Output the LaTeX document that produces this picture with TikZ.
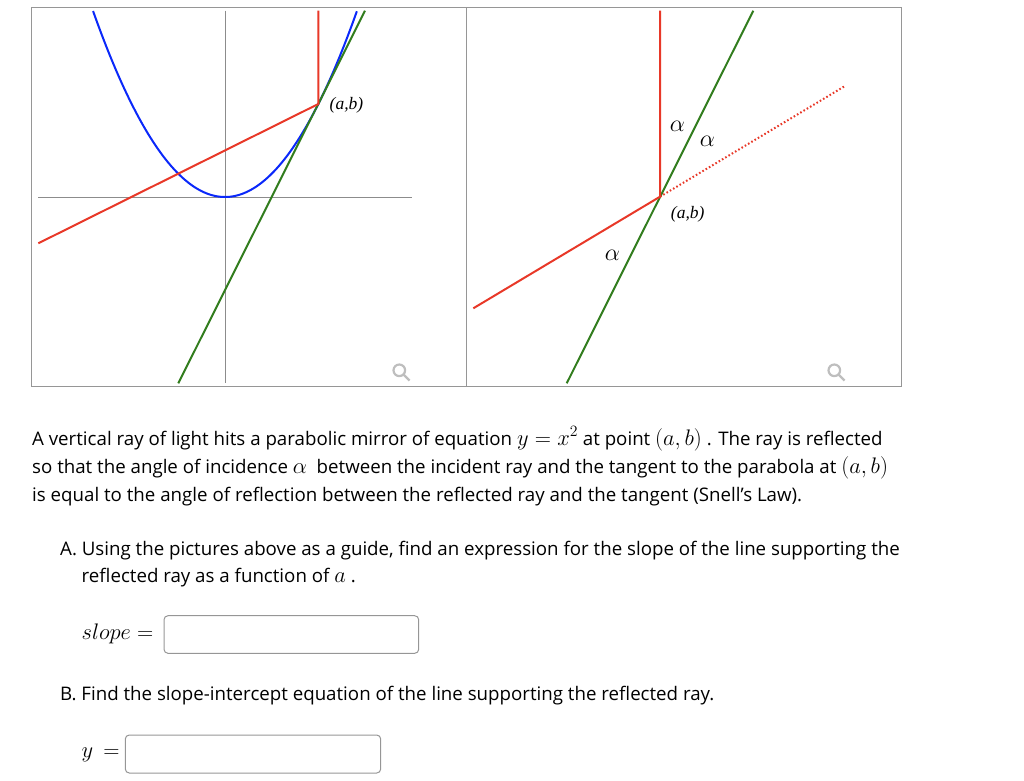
\documentclass[tikz,border=0pt]{standalone}
\usepackage{fix-cm}
\usepackage{fontspec}
\setmainfont{Open Sans}
\newfontfamily\lblfont{Liberation Serif}
\definecolor{rayred}{RGB}{232,56,40}
\definecolor{parblue}{RGB}{10,40,250}
\definecolor{tangreen}{RGB}{50,125,30}
\definecolor{axgray}{RGB}{140,140,140}
\definecolor{boxgray}{RGB}{150,150,150}
\definecolor{icongray}{RGB}{190,190,190}
\newcommand{\sq}{{\char"0027}}
\newcommand{\mth}[1]{{\fontsize{22.5}{22}\selectfont$#1$}}
\begin{document}
\begin{tikzpicture}[x=1pt,y=-1pt,
  panel/.style={draw=boxgray,line width=1pt},
  axis/.style={draw=axgray,line width=1pt},
  ray/.style={draw=rayred,line width=2pt},
  tang/.style={draw=tangreen,line width=2pt},
  parab/.style={draw=parblue,line width=2pt},
  lbl/.style={font=\fontsize{17.5}{17.5}\selectfont\lblfont\itshape,inner sep=0pt},
  alab/.style={font=\fontsize{24}{24}\selectfont,inner sep=0pt},
  txt/.style={font=\fontsize{18.7}{22}\selectfont,inner sep=0pt,anchor=base west},
  ansbox/.style={draw=boxgray,line width=1pt,rounded corners=4pt},
  mag/.style={draw=icongray,line width=2.2pt}]
\useasboundingbox (0,0) rectangle (1024,780);
% panels
\draw[panel] (31,7) rectangle (901,386);
\draw[panel] (466,7) -- (466,386);
% ---- left panel
\draw[axis] (38,197) -- (412,197);
\draw[axis] (225,10.7) -- (225,383.3);
\draw[parab] plot[domain=-1.414:1.414,samples=120] ({225+93.3*\x},{197-93*\x*\x});
\coordinate (P1) at (318.3,104);
\coordinate (P1top) at (318.3,10.7);
\coordinate (P1ref) at (38.3,243.3);
\coordinate (T1a) at (365,10.7);
\coordinate (T1b) at (178.3,383.3);
\draw[tang] (T1a) -- (T1b);
\draw[ray] (P1top) -- (P1) -- (P1ref);
\node[lbl] (L1) at (346.5,105) {(a,b)};
% magnifier left
\draw[mag] (399.3,370.3) circle (5.8);
\draw[mag] (403.6,374.6) -- (409.5,380.5);
% ---- right panel
\coordinate (P2) at (660,196.7);
\coordinate (P2top) at (660,10.7);
\coordinate (P2ref) at (473.3,308.3);
\coordinate (P2dot) at (845,86);
\coordinate (T2a) at (753.3,10.7);
\coordinate (T2b) at (566.7,383.3);
\draw[tang] (T2a) -- (T2b);
\draw[ray] (P2top) -- (P2) -- (P2ref);
\draw[draw=rayred,line width=2pt,dash pattern=on 1.6pt off 2.2pt] (P2) -- (P2dot);
\node[alab] (A1) at (677.3,126) {$\alpha$};
\node[alab] (A2) at (707.3,141.7) {$\alpha$};
\node[alab] (A3) at (612.3,255) {$\alpha$};
\node[lbl] (L2) at (687.7,214.3) {(a,b)};
% magnifier right
\draw[mag] (834.3,370.3) circle (5.8);
\draw[mag] (838.6,374.6) -- (844.5,380.5);
% ---- text
\node[txt] (t1) at (32,445) {A vertical ray of light hits a parabolic mirror of equation \mth{y=x^2} at point \mth{(a,b)} . The ray is reflected};
\node[txt] (t2) at (32,473) {so that the angle of incidence \mth{\alpha}\ \ between the incident ray and the tangent to the parabola at \mth{(a,b)}};
\node[txt] (t3) at (32,501) {is equal to the angle of reflection between the reflected ray and the tangent (Snell\sq s Law).};
\node[txt] (ta1) at (60,555) {A. Using the pictures above as a guide, find an expression for the slope of the line supporting the};
\node[txt] (ta2) at (81.5,582) {reflected ray as a function of \mth{a} .};
\node[txt] (ts) at (81.5,639) {\mth{slope =}};
\draw[ansbox] (164,615.7) rectangle (418.7,653.3);
\node[txt] (tb) at (60,700) {B. Find the slope-intercept equation of the line supporting the reflected ray.};
\node[txt] (ty) at (81.5,757) {\mth{y\,=}};
\draw[ansbox] (125.3,735) rectangle (380.7,773);
\end{tikzpicture}
\end{document}
